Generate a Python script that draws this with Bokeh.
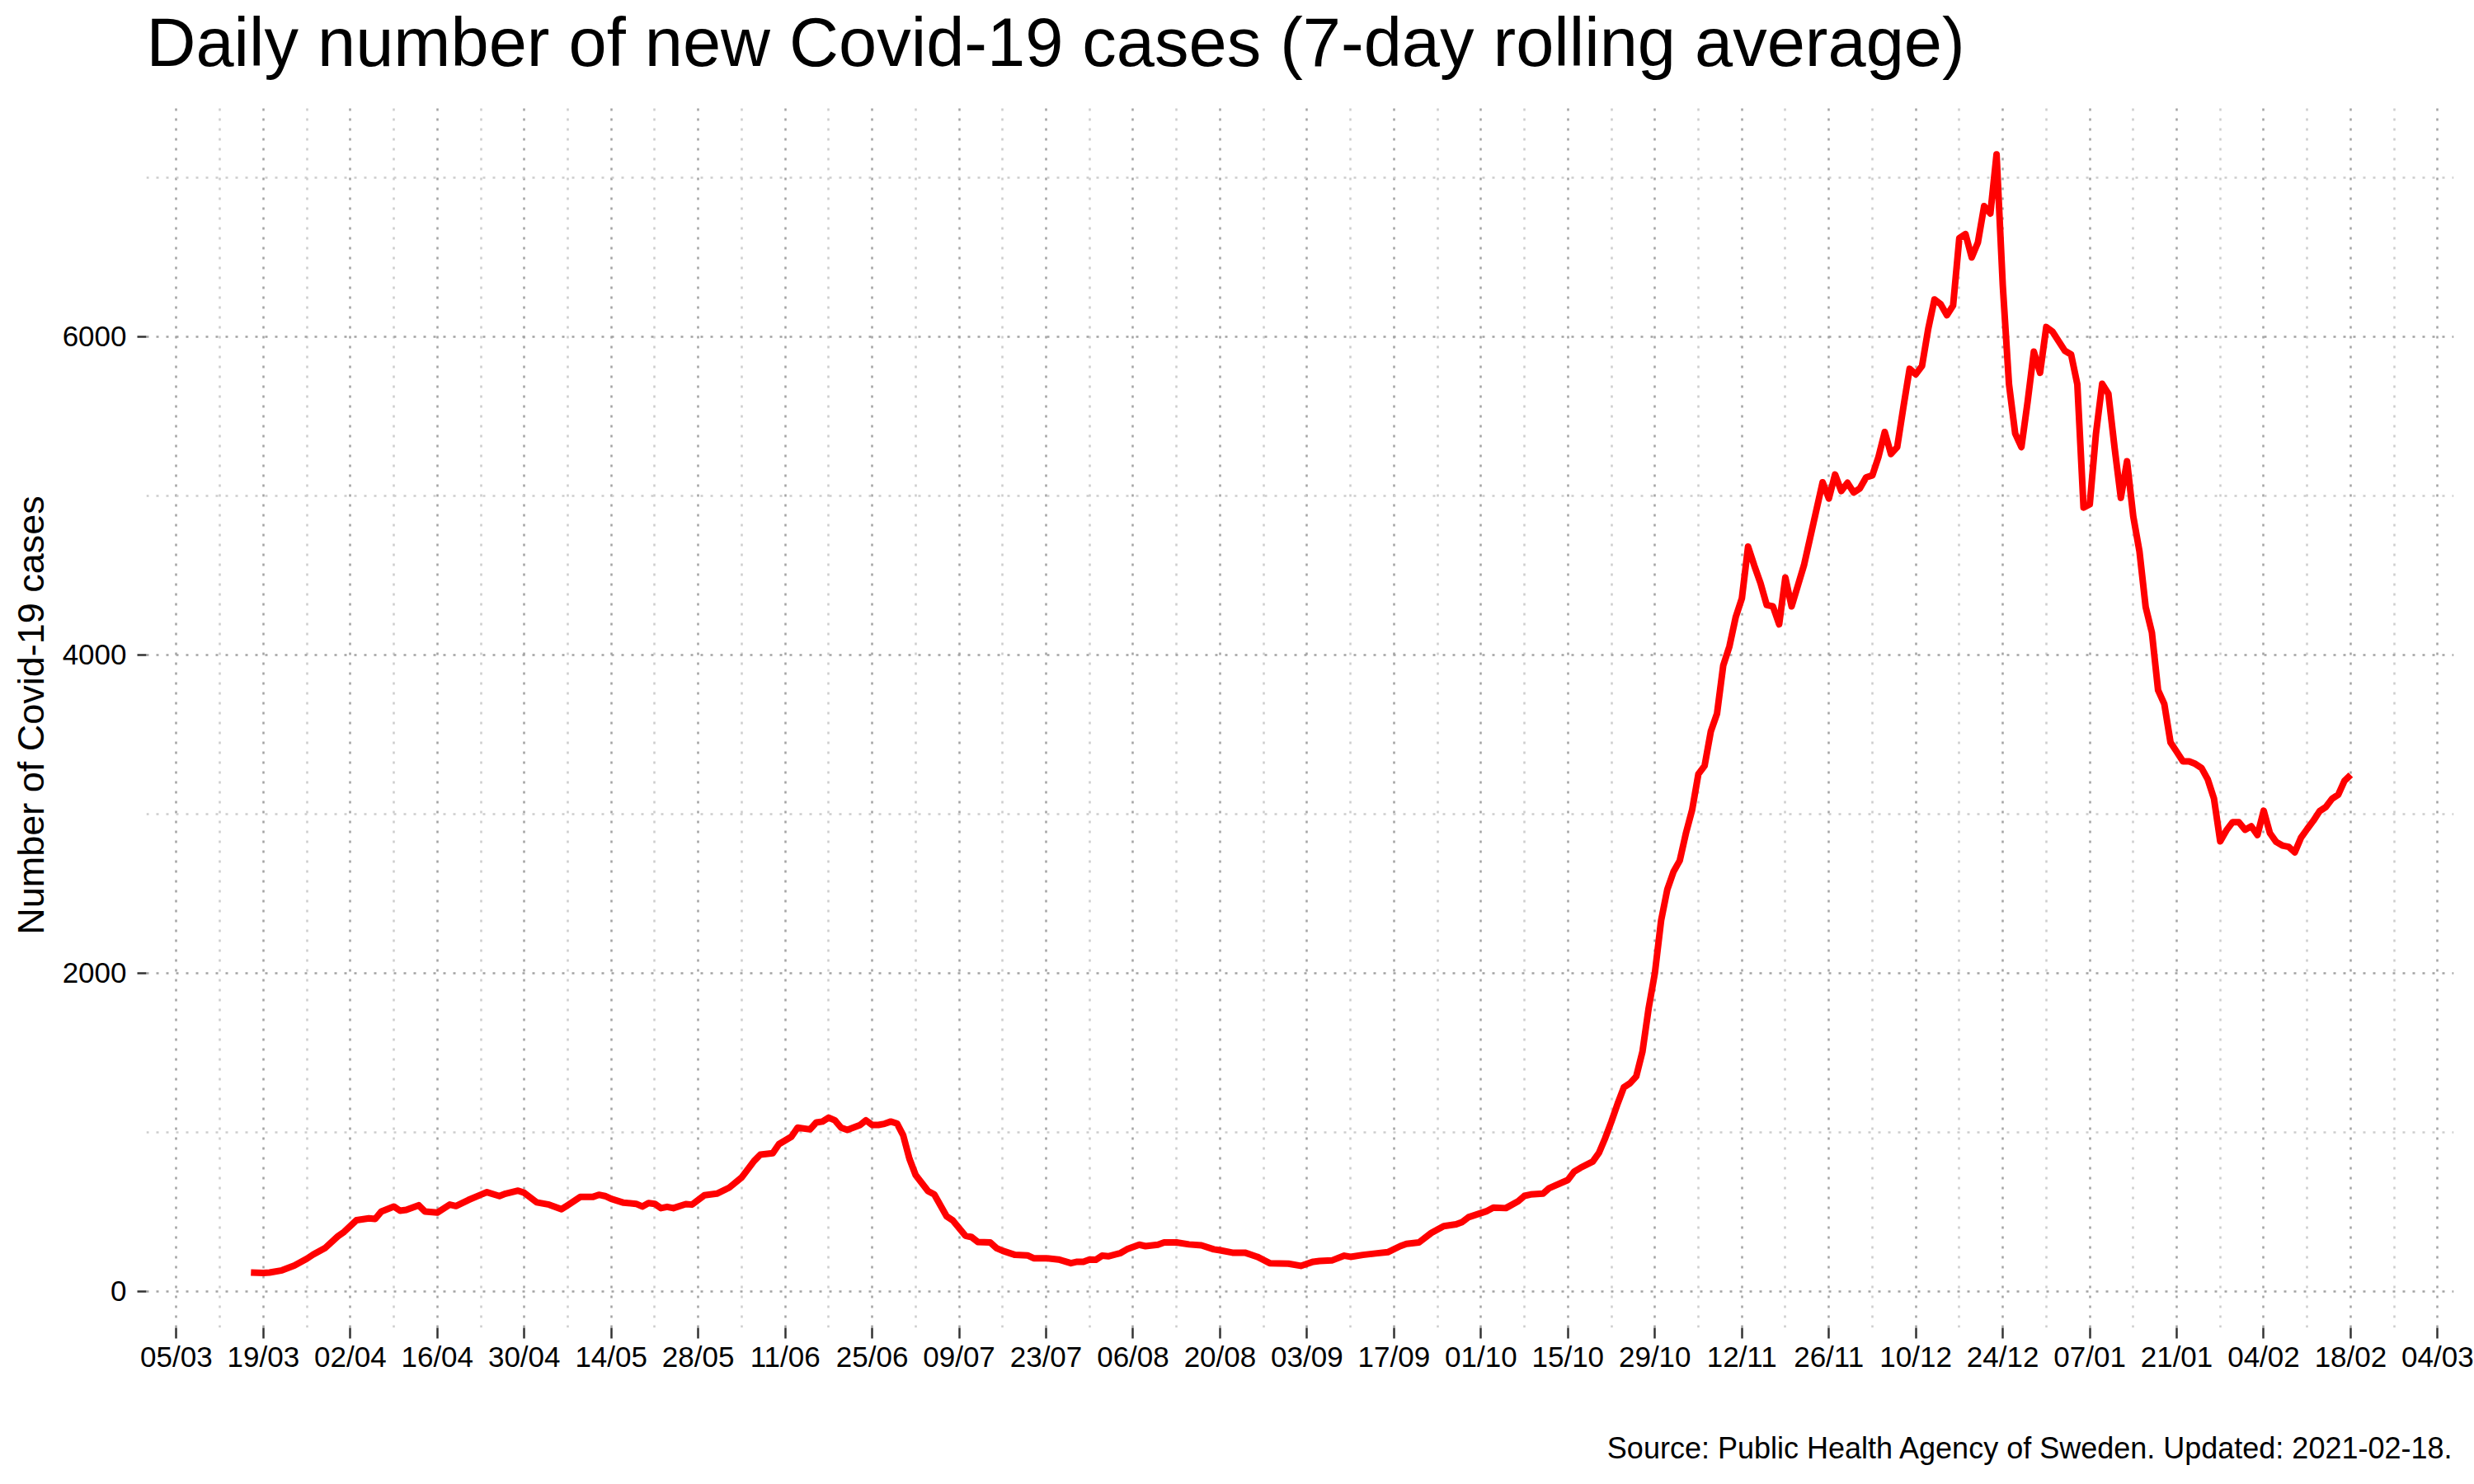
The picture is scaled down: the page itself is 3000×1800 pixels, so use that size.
import pandas as pd
from bokeh.plotting import figure
from bokeh.models import Range1d, FixedTicker, Title, DatetimeTickFormatter
from bokeh.embed import file_html
from bokeh.resources import INLINE

# ---------------- data ----------------
dates = [
    "2020-03-17", "2020-03-19", "2020-03-20", "2020-03-22", "2020-03-24", "2020-03-26",
    "2020-03-27", "2020-03-29", "2020-03-31", "2020-04-01", "2020-04-03", "2020-04-05",
    "2020-04-06", "2020-04-07", "2020-04-09", "2020-04-10", "2020-04-11", "2020-04-13",
    "2020-04-14", "2020-04-16", "2020-04-18", "2020-04-19", "2020-04-21", "2020-04-23",
    "2020-04-24", "2020-04-26", "2020-04-27", "2020-04-29", "2020-04-30", "2020-05-02",
    "2020-05-04", "2020-05-06", "2020-05-07", "2020-05-09", "2020-05-11", "2020-05-12",
    "2020-05-13", "2020-05-14", "2020-05-16", "2020-05-18", "2020-05-19", "2020-05-20",
    "2020-05-21", "2020-05-22", "2020-05-23", "2020-05-24", "2020-05-26", "2020-05-27",
    "2020-05-29", "2020-05-31", "2020-06-02", "2020-06-04", "2020-06-06", "2020-06-07",
    "2020-06-09", "2020-06-10", "2020-06-12", "2020-06-13", "2020-06-15", "2020-06-16",
    "2020-06-17", "2020-06-18", "2020-06-19", "2020-06-20", "2020-06-21", "2020-06-23",
    "2020-06-24", "2020-06-25", "2020-06-26", "2020-06-27", "2020-06-28", "2020-06-29",
    "2020-06-30", "2020-07-01", "2020-07-02", "2020-07-04", "2020-07-05", "2020-07-07",
    "2020-07-08", "2020-07-10", "2020-07-11", "2020-07-12", "2020-07-14", "2020-07-15",
    "2020-07-16", "2020-07-18", "2020-07-20", "2020-07-21", "2020-07-23", "2020-07-25",
    "2020-07-26", "2020-07-27", "2020-07-28", "2020-07-29", "2020-07-30", "2020-07-31",
    "2020-08-01", "2020-08-02", "2020-08-04", "2020-08-05", "2020-08-07", "2020-08-08",
    "2020-08-10", "2020-08-11", "2020-08-13", "2020-08-15", "2020-08-17", "2020-08-19",
    "2020-08-20", "2020-08-22", "2020-08-24", "2020-08-26", "2020-08-28", "2020-08-31",
    "2020-09-02", "2020-09-04", "2020-09-05", "2020-09-07", "2020-09-09", "2020-09-10",
    "2020-09-12", "2020-09-14", "2020-09-16", "2020-09-18", "2020-09-19", "2020-09-21",
    "2020-09-23", "2020-09-25", "2020-09-27", "2020-09-28", "2020-09-29", "2020-09-30",
    "2020-10-02", "2020-10-03", "2020-10-05", "2020-10-07", "2020-10-08", "2020-10-09",
    "2020-10-11", "2020-10-12", "2020-10-14", "2020-10-15", "2020-10-16", "2020-10-17",
    "2020-10-19", "2020-10-20", "2020-10-21", "2020-10-22", "2020-10-23", "2020-10-24",
    "2020-10-25", "2020-10-26", "2020-10-27", "2020-10-28", "2020-10-29", "2020-10-30",
    "2020-10-31", "2020-11-01", "2020-11-02", "2020-11-03", "2020-11-04", "2020-11-05",
    "2020-11-06", "2020-11-07", "2020-11-08", "2020-11-09", "2020-11-10", "2020-11-11",
    "2020-11-12", "2020-11-13", "2020-11-14", "2020-11-15", "2020-11-16", "2020-11-17",
    "2020-11-18", "2020-11-19", "2020-11-20", "2020-11-21", "2020-11-22", "2020-11-25",
    "2020-11-26", "2020-11-27", "2020-11-28", "2020-11-29", "2020-11-30", "2020-12-01",
    "2020-12-02", "2020-12-03", "2020-12-04", "2020-12-05", "2020-12-06", "2020-12-07",
    "2020-12-08", "2020-12-09", "2020-12-10", "2020-12-11", "2020-12-12", "2020-12-13",
    "2020-12-14", "2020-12-15", "2020-12-16", "2020-12-17", "2020-12-18", "2020-12-19",
    "2020-12-20", "2020-12-21", "2020-12-22", "2020-12-23", "2020-12-24", "2020-12-25",
    "2020-12-26", "2020-12-27", "2020-12-28", "2020-12-29", "2020-12-30", "2020-12-31",
    "2021-01-01", "2021-01-03", "2021-01-04", "2021-01-05", "2021-01-06", "2021-01-07",
    "2021-01-08", "2021-01-09", "2021-01-10", "2021-01-11", "2021-01-12", "2021-01-13",
    "2021-01-14", "2021-01-15", "2021-01-16", "2021-01-17", "2021-01-18", "2021-01-19",
    "2021-01-20", "2021-01-21", "2021-01-22", "2021-01-23", "2021-01-24", "2021-01-25",
    "2021-01-26", "2021-01-27", "2021-01-28", "2021-01-29", "2021-01-30", "2021-01-31",
    "2021-02-01", "2021-02-02", "2021-02-03", "2021-02-04", "2021-02-05", "2021-02-06",
    "2021-02-07", "2021-02-08", "2021-02-09", "2021-02-10", "2021-02-11", "2021-02-12",
    "2021-02-13", "2021-02-14", "2021-02-15", "2021-02-16", "2021-02-17", "2021-02-18",
]

cases = [
    117, 114, 117, 131, 161, 204,
    230, 273, 345, 373, 446, 458,
    454, 501, 532, 506, 511, 540,
    501, 494, 544, 535, 573, 606,
    622, 598, 613, 632, 618, 558,
    544, 515, 540, 592, 592, 606,
    598, 580, 556, 549, 532, 554,
    549, 522, 530, 522, 547, 544,
    603, 613, 651, 715, 819, 858,
    867, 924, 971, 1028, 1017, 1060,
    1066, 1091, 1074, 1028, 1014, 1043,
    1074, 1045, 1045, 1052, 1066, 1054,
    979, 832, 730, 629, 608, 470,
    444, 349, 340, 309, 306, 271,
    254, 228, 225, 207, 207, 199,
    188, 176, 185, 185, 199, 197,
    223, 219, 240, 263, 292, 283,
    292, 306, 306, 294, 288, 263,
    257, 242, 242, 216, 176, 173,
    159, 185, 190, 193, 223, 216,
    228, 237, 245, 283, 297, 306,
    366, 409, 420, 435, 465, 478,
    504, 525, 522, 565, 599, 608,
    613, 648, 682, 699, 751, 775,
    815, 870, 962, 1066, 1178, 1281,
    1307, 1350, 1506, 1780, 2000, 2330,
    2525, 2637, 2706, 2879, 3026, 3250,
    3302, 3518, 3630, 3932, 4053, 4235,
    4355, 4680, 4560, 4450, 4312, 4304,
    4191, 4485, 4304, 4433, 4563, 5084,
    4982, 5133, 5029, 5081, 5020, 5046,
    5115, 5127, 5245, 5400, 5262, 5305,
    5556, 5797, 5763, 5815, 6048, 6233,
    6203, 6134, 6195, 6618, 6644, 6497,
    6592, 6820, 6773, 7145, 6320, 5700,
    5390, 5305, 5590, 5905, 5772, 6060,
    6031, 5910, 5887, 5700, 4925, 4945,
    5390, 5703, 5640, 5300, 4986, 5216,
    4870, 4650, 4300, 4140, 3777, 3691,
    3449, 3390, 3330, 3330, 3314, 3288,
    3216, 3095, 2827, 2896, 2948, 2948,
    2900, 2922, 2867, 3020, 2879, 2824,
    2801, 2793, 2758, 2850, 2905, 2957,
    3017, 3043, 3095, 3121, 3207, 3245,
]

x_tick_dates = [
    "2020-03-05", "2020-03-19", "2020-04-02", "2020-04-16", "2020-04-30", "2020-05-14",
    "2020-05-28", "2020-06-11", "2020-06-25", "2020-07-09", "2020-07-23", "2020-08-06",
    "2020-08-20", "2020-09-03", "2020-09-17", "2020-10-01", "2020-10-15", "2020-10-29",
    "2020-11-12", "2020-11-26", "2020-12-10", "2020-12-24", "2021-01-07", "2021-01-21",
    "2021-02-04", "2021-02-18", "2021-03-04",
]
x_tick_labels = [
    "05/03", "19/03", "02/04", "16/04", "30/04", "14/05",
    "28/05", "11/06", "25/06", "09/07", "23/07", "06/08",
    "20/08", "03/09", "17/09", "01/10", "15/10", "29/10",
    "12/11", "26/11", "10/12", "24/12", "07/01", "21/01",
    "04/02", "18/02", "04/03",
]
y_ticks = [0, 2000, 4000, 6000]
y_minor_ticks = [1000, 3000, 5000, 7000]

title_text = "Daily number of new Covid-19 cases (7-day rolling average)"
y_label = "Number of Covid-19 cases"
caption_text = "Source: Public Health Agency of Sweden. Updated: 2021-02-18."

# ---------------- plot ----------------
FONT = "Liberation Sans"


def to_ms(t):
    return int(pd.Timestamp(t).value // 10**6)


x = [pd.Timestamp(d).to_pydatetime() for d in dates]
major_ms = [to_ms(d) for d in x_tick_dates]
minor_ms = [to_ms(pd.Timestamp(d) + pd.Timedelta(days=7)) for d in x_tick_dates[:-1]]

origin = pd.Timestamp(x_tick_dates[0])
x_start = (origin - pd.Timedelta(days=4.83)).to_pydatetime()
x_end = (origin + pd.Timedelta(days=366.6)).to_pydatetime()

p = figure(
    width=3000, height=1784,
    x_axis_type="datetime",
    x_range=Range1d(x_start, x_end),
    y_range=Range1d(-230, 7470),
    output_backend="svg",
    toolbar_location=None,
    min_border_left=177, min_border_right=25,
    min_border_top=124, min_border_bottom=174,
)
p.outline_line_color = None
p.background_fill_color = "white"
p.border_fill_color = "white"

# spacer between frame and title
p.add_layout(Title(text=" ", text_font_size="1px", standoff=24), "above")

# title
p.title.text = title_text
p.title.text_font = FONT
p.title.text_font_size = "83px"
p.title.text_font_style = "normal"
p.title.text_color = "black"
p.title.align = "left"
p.title.standoff = 0

# spacer between x axis and caption, then caption
p.add_layout(Title(text=" ", text_font_size="1px", standoff=63), "below")
cap = Title(text=caption_text, align="right", text_font=FONT, text_font_size="36px",
            text_font_style="normal", text_color="black", standoff=0)
p.add_layout(cap, "below")

# x axis
xa = p.xaxis[0]
xa.ticker = FixedTicker(ticks=major_ms, minor_ticks=minor_ms)
xa.formatter = DatetimeTickFormatter(days="%d/%m", months="%d/%m", years="%d/%m")
xa.major_label_overrides = {k: v for k, v in zip(major_ms, x_tick_labels)}
xa.axis_line_color = None
xa.major_tick_line_color = "#333333"
xa.major_tick_line_width = 2.5
xa.major_tick_in = 0
xa.major_tick_out = 13
xa.minor_tick_line_color = None
xa.major_label_text_font = FONT
xa.major_label_text_font_size = "35px"
xa.major_label_text_color = "black"
xa.major_label_standoff = 2

# y axis
ya = p.yaxis[0]
ya.ticker = FixedTicker(ticks=y_ticks, minor_ticks=y_minor_ticks)
ya.axis_line_color = None
ya.major_tick_line_color = "#333333"
ya.major_tick_line_width = 2.5
ya.major_tick_in = 0
ya.major_tick_out = 11
ya.minor_tick_line_color = None
ya.major_label_text_font = FONT
ya.major_label_text_font_size = "35px"
ya.major_label_text_color = "black"
ya.major_label_standoff = 13
ya.axis_label = y_label
ya.axis_label_text_font = FONT
ya.axis_label_text_font_size = "45px"
ya.axis_label_text_font_style = "normal"
ya.axis_label_text_color = "black"
ya.axis_label_standoff = 10

# grids
for g in (p.xgrid[0], p.ygrid[0]):
    g.grid_line_color = "#a3a3a3"
    g.grid_line_width = 2.5
    g.grid_line_dash = "3 9"
    g.minor_grid_line_color = "#cdcdcd"
    g.minor_grid_line_width = 2.5
    g.minor_grid_line_dash = "3 9"

p.line(x, cases, line_color="#FF0000", line_width=8, line_join="round")

open("out.html", "w").write(file_html(p, INLINE))
